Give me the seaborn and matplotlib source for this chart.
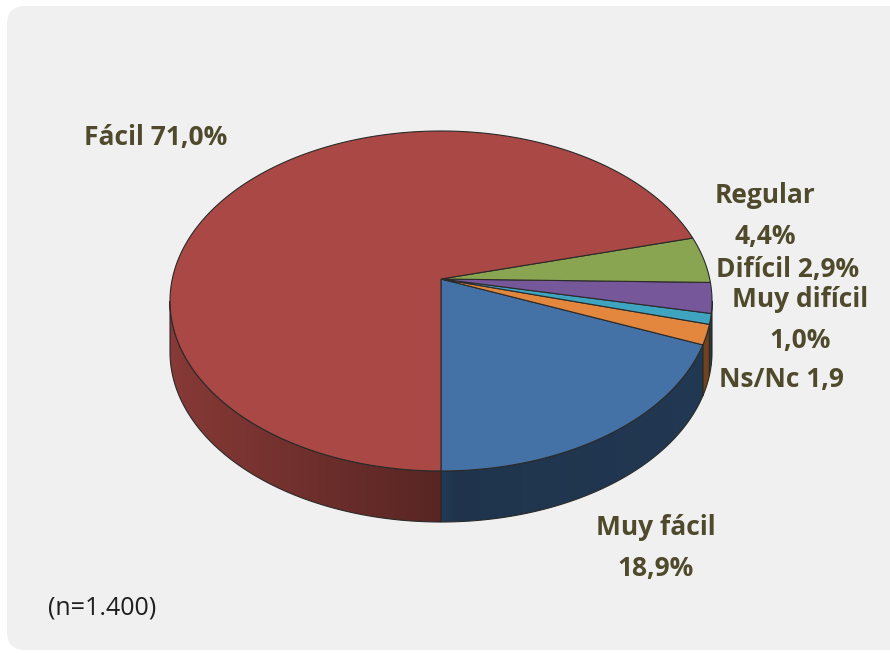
import numpy as np
import matplotlib.pyplot as plt
import matplotlib.colors as mcolors
import seaborn as sns
from matplotlib.patches import FancyBboxPatch, Polygon
from matplotlib.transforms import Transform
from matplotlib.path import Path

# Data, in drawing order starting at the bottom
labels = ["Muy fácil", "Ns/Nc", "Muy difícil", "Difícil", "Regular", "Fácil"]
values = [18.9, 1.9, 1.0, 2.9, 4.4, 71.0]
pct_text = ["18,9%", "1,9", "1,0%", "2,9%", "4,4%", "71,0%"]
colors = ["#4471a6", "#e2873d", "#3fa4c0", "#76589a", "#8aa552", "#a94844"]
note = "(n=1.400)"

sns.set_theme(style="white")
plt.rcParams["font.family"] = ["Open Sans", "DejaVu Sans"]

W, H = 890, 653
fig = plt.figure(figsize=(W / 100, H / 100), dpi=100)
fig.patch.set_facecolor("white")

# Background panel, pixel coordinates
bg = fig.add_axes([0, 0, 1, 1])
bg.set_xlim(0, W)
bg.set_ylim(H, 0)
bg.axis("off")
bg.add_patch(FancyBboxPatch((7, 6), 900, 644,
                            boxstyle="round,pad=0,rounding_size=18",
                            fc="#f0f0f0", ec="none"))


class Tilt(Transform):
    """Projective map keeping the unit circle, moving its centre up (perspective look)."""
    input_dims = output_dims = 2

    def __init__(self, c):
        super().__init__()
        t = np.arctanh(c)
        self.ch, self.sh = np.cosh(t), np.sinh(t)

    def transform_non_affine(self, xy):
        xy = np.asarray(xy, float)
        x, y = xy[:, 0], xy[:, 1]
        w = self.sh * y + self.ch
        return np.column_stack([x / w, (self.ch * y + self.sh) / w])

    def transform_path_non_affine(self, path):
        pts = [seg(np.linspace(0, 1, 40)) for seg, code in path.iter_bezier()]
        return Path(self.transform_non_affine(np.vstack(pts)), closed=True)


# Pie axes: unit circle squashed into an ellipse
ax = fig.add_axes([0, 0, 1, 1])
cx, cy, rx, ry = 441, 301, 271, 170
depth = 51 / ry
lift = 22 / ry
tilt = Tilt(lift)

edge = "#2a2a2a"
wedges, _ = ax.pie(values, colors=colors, startangle=-90, counterclock=True,
                   wedgeprops=dict(edgecolor=edge, linewidth=0.8, zorder=3))
for w in wedges:
    w.set_transform(tilt + ax.transData)


def shade(x):
    return np.interp(x, [-1, 0, 0.05, 1], [0.8, 0.52, 0.46, 0.5])


# Side walls of the front half
a = np.degrees(np.arcsin(lift))
xs_img = np.linspace(-1, 1, 400)
for w, col in zip(wedges, colors):
    t1, t2 = w.theta1, w.theta2
    for lo_b, hi_b in [(-180 + a, -a), (180 + a, 360 - a)]:
        lo, hi = max(t1, lo_b), min(t2, hi_b)
        if hi <= lo:
            continue
        th = np.radians(np.linspace(lo, hi, 150))
        top = tilt.transform(np.column_stack([np.cos(th), np.sin(th)]))
        bot = top[::-1] - [0, depth]
        poly = Polygon(np.vstack([top, bot]), closed=True, fc="none",
                       ec=edge, lw=0.8, zorder=2)
        ax.add_patch(poly)
        rgb = np.array(mcolors.to_rgb(col))
        img = (rgb[None, :] * shade(xs_img)[:, None])[None, :, :]
        im = ax.imshow(img, extent=(-1, 1, -1 - depth, 0.2), aspect="auto",
                       zorder=1, interpolation="bilinear")
        im.set_clip_path(poly)

ax.set_aspect("auto")
ax.set_xlim(-cx / rx, (W - cx) / rx)
ax.set_ylim((cy - H) / ry, cy / ry)
ax.axis("off")

# Labels
tc = "#4f4a2c"
kw = dict(color=tc, fontsize=19, fontweight="bold", va="center")
bg.text(84, 138, f"{labels[5]} {pct_text[5]}", ha="left", **kw)
bg.text(765, 216, f"{labels[4]}\n{pct_text[4]}", ha="center", linespacing=1.7, **kw)
bg.text(716, 270, f"{labels[3]} {pct_text[3]}", ha="left", **kw)
bg.text(800, 320, f"{labels[2]}\n{pct_text[2]}", ha="center", linespacing=1.7, **kw)
bg.text(719, 379, f"{labels[1]} {pct_text[1]}", ha="left", **kw)
bg.text(656, 548, f"{labels[0]}\n{pct_text[0]}", ha="center", linespacing=1.7, **kw)
bg.text(48, 608, note, color="#1e1e1e", fontsize=18, ha="left", va="center")

fig.savefig("out.png", dpi=100)
